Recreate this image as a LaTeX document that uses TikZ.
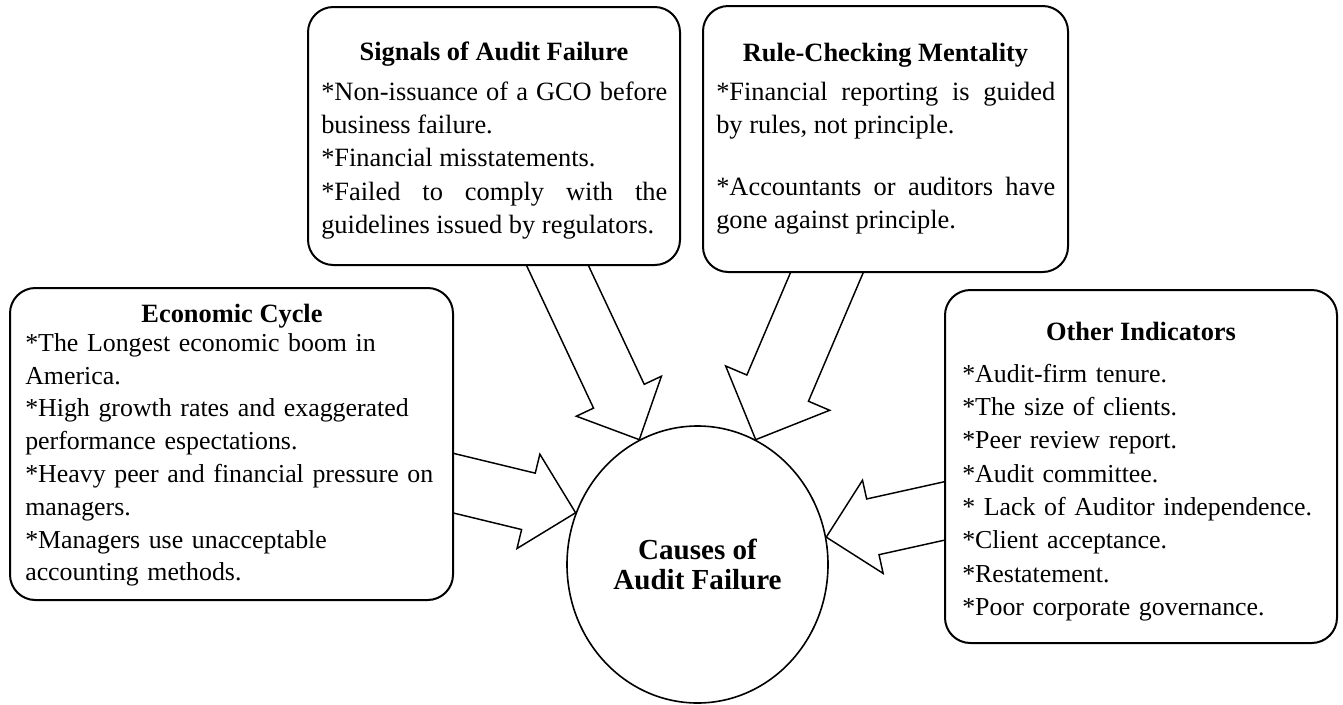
\documentclass[tikz,border=0pt]{standalone}
\usepackage{fontspec}
\setmainfont{Liberation Serif}
\usetikzlibrary{calc,shapes.geometric}
\pgfdeclarelayer{bg}
\pgfsetlayers{bg,main}
\newcommand\fst{\rule{0pt}{20pt}}
\begin{document}
\begin{tikzpicture}[x=0.75pt,y=-0.75pt,
  box/.style={draw, line width=1.5pt, rounded corners=19pt, fill=white, inner sep=0pt},
  body/.style={anchor=north west, inner sep=0pt, font=\fontsize{19.8pt}{25pt}\selectfont},
  ttl/.style={anchor=base, inner sep=0pt, font=\fontsize{19.8pt}{25pt}\selectfont\bfseries},
  hub/.style={ellipse, draw, line width=1.2pt, fill=white, inner sep=0pt, align=center,
    font=\fontsize{21.8pt}{22.5pt}\selectfont\bfseries},
  barrow/.style n args={3}{draw, fill=white, line width=1.1pt, line join=miter, to path={
    ($(\tikztostart)!#1!90:(\tikztotarget)$)
    -- ($($(\tikztotarget)!#3!(\tikztostart)$)!#1!90:(\tikztotarget)$)
    -- ($($(\tikztotarget)!#3!(\tikztostart)$)!#2!90:(\tikztotarget)$)
    -- (\tikztotarget)
    -- ($($(\tikztotarget)!#3!(\tikztostart)$)!#2!-90:(\tikztotarget)$)
    -- ($($(\tikztotarget)!#3!(\tikztostart)$)!#1!-90:(\tikztotarget)$)
    -- ($(\tikztostart)!#1!-90:(\tikztotarget)$)
    -- cycle}}
]
\useasboundingbox (0,0) rectangle (1343,704);

% central hub
\node[hub, minimum width=195.75pt, minimum height=207.75pt] (c) at (697.5,564.5) {Causes of\\Audit Failure};

% boxes
\node[box, minimum width=279pt, minimum height=193.5pt] (sig) at (494,136) {};
\node[box, minimum width=273.75pt, minimum height=199.5pt] (rule) at (885.5,139) {};
\node[box, minimum width=332.25pt, minimum height=234pt] (eco) at (231.5,444) {};
\node[box, minimum width=294pt, minimum height=264.75pt] (oth) at (1141,466.5) {};

% titles
\node[ttl] (sigT) at (494,60) {Signals of Audit Failure};
\node[ttl] (ruleT) at (885.5,61) {Rule-Checking Mentality};
\node[ttl] (ecoT) at (232,322) {Economic Cycle};
\node[ttl] (othT) at (1141,340) {Other Indicators};

% body texts
\node[body, text width=259.5pt, align=justify] (sigB) at (321,73.33)
  {\fst*Non-issuance of a GCO before\linebreak business failure.\\{}%
   *Financial misstatements.\\{}%
   *Failed to comply with the\linebreak guidelines issued by regulators.};
\node[body, text width=254.25pt, align=justify] (ruleB) at (716,73.33)
  {\fst*Financial reporting is guided\linebreak by rules, not principle.\\[21.5pt]%
   *Accountants or auditors have\linebreak gone against principle.};
\node[body, text width=315pt, align=left, font=\fontsize{19.4pt}{24.6pt}\selectfont] (ecoB) at (25,324.33)
  {\fst*The Longest economic boom in\\{}%
   America.\\{}%
   *High growth rates and exaggerated\\{}%
   performance espectations.\\{}%
   *Heavy peer and financial pressure on\\{}%
   managers.\\{}%
   *Managers use unacceptable\\{}%
   accounting methods.};
\node[body, text width=300pt, align=left, font=\fontsize{19.4pt}{25pt}\selectfont] (othB) at (962,355.33)
  {\fst*Audit-firm tenure.\\{}%
   *The size of clients.\\{}%
   *Peer review report.\\{}%
   *Audit committee.\\{}%
   * Lack of Auditor independence.\\{}%
   *Client acceptance.\\{}%
   *Restatement.\\{}%
   *Poor corporate governance.};

% arrow tails (hidden inside the boxes)
\coordinate (ecoTail) at (430,477.5);
\coordinate (sigTail) at (545.5,240);
\coordinate (ruleTail) at (836.5,250);
\coordinate (othTail) at (969,505.5);

\begin{pgfonlayer}{bg}
\draw[barrow={21.75pt}{36.4pt}{36.4pt}] (ecoTail) to (c.157.7);
\draw[barrow={21pt}{35.25pt}{36pt}] (sigTail) to (c.115.4);
\draw[barrow={25.1pt}{42.4pt}{42pt}] (ruleTail) to (c.65.7);
\draw[barrow={21.4pt}{35.8pt}{35.8pt}] (othTail) to (c.12);
\end{pgfonlayer}
\end{tikzpicture}
\end{document}
